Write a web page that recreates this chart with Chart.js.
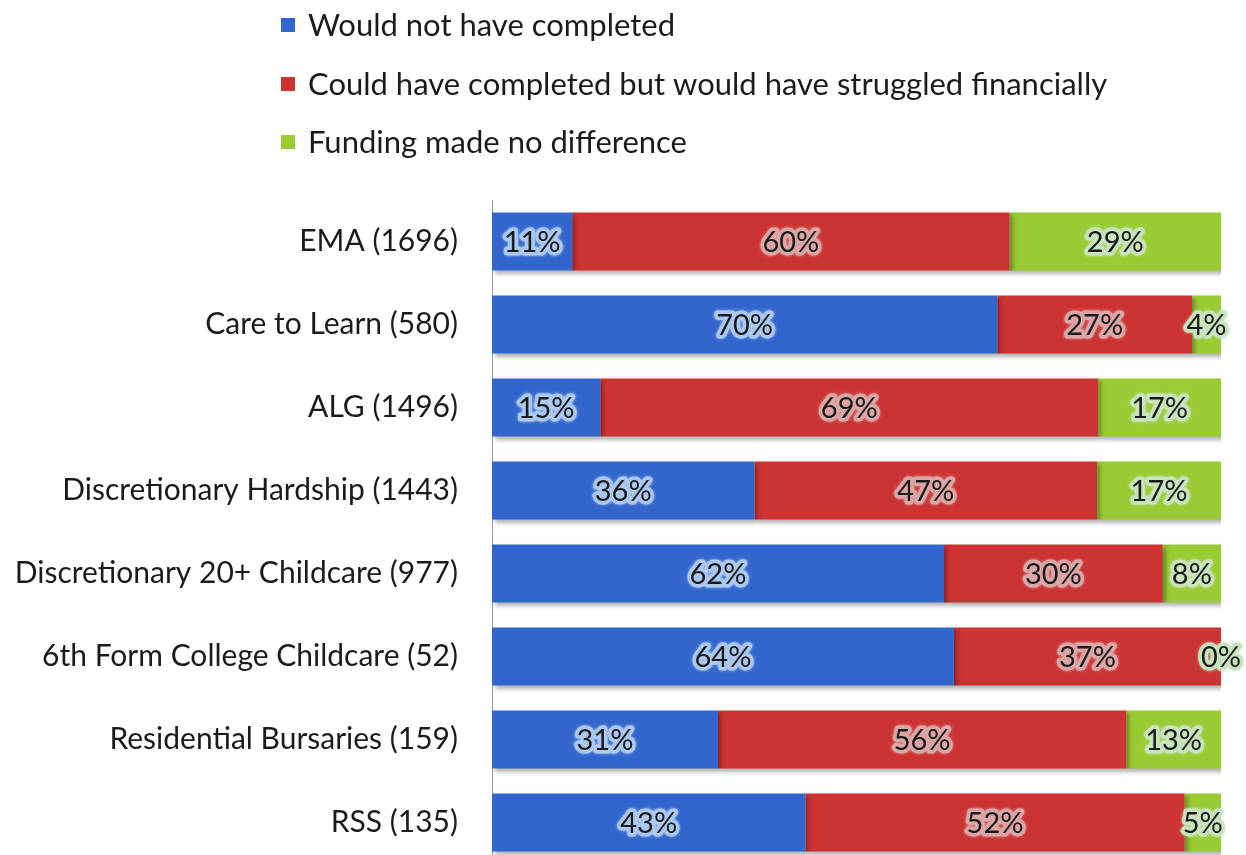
<!DOCTYPE html>
<html>
<head>
<meta charset="utf-8">
<script src="https://cdn.jsdelivr.net/npm/chart.js@4.4.1/dist/chart.umd.min.js"></script>
<style>
    html, body { margin: 0; padding: 0; overflow: hidden; background: #fff; }
</style>
</head>
<body>
<canvas id="chart" width="1246" height="864"></canvas>
<script>
const categories = [
    'EMA (1696)',
    'Care to Learn (580)',
    'ALG (1496)',
    'Discretionary Hardship (1443)',
    'Discretionary 20+ Childcare (977)',
    '6th Form College Childcare (52)',
    'Residential Bursaries (159)',
    'RSS (135)'
];
const seriesNames = [
    'Would not have completed',
    'Could have completed but would have struggled financially',
    'Funding made no difference'
];
const notCompleted = [11, 70, 15, 36, 62, 64, 31, 43];
const struggled = [60, 27, 69, 47, 30, 37, 56, 52];
const noDifference = [29, 4, 17, 17, 8, 0, 13, 5];

const colors = ['#3366cc', '#cc3333', '#99cc33'];
const haloColors = ['#aac8f0', '#dca6a6', '#c8e4bc'];
const FONT = 'Lato, "Open Sans", sans-serif';

const series = [notCompleted, struggled, noDifference];
const totals = categories.map((c, i) => series.reduce((s, arr) => s + arr[i], 0));

const datasets = series.map((values, k) => ({
    label: seriesNames[k],
    data: values.map((v, i) => v / totals[i] * 100),
    rawValues: values,
    backgroundColor: colors[k],
    borderWidth: 0,
    barPercentage: 0.7,
    categoryPercentage: 1
}));

// shadows under the bars + glowing value labels
const barLabels = {
    id: 'barLabels',
    beforeDatasetsDraw(chart) {
        const ctx = chart.ctx;
        ctx.save();
        ctx.shadowColor = 'rgba(0,0,0,0.3)';
        ctx.shadowBlur = 4;
        ctx.shadowOffsetX = 3;
        ctx.shadowOffsetY = 3;
    },
    afterDatasetsDraw(chart) {
        const ctx = chart.ctx;
        ctx.restore();
        ctx.save();
        ctx.font = '29px ' + FONT;
        ctx.textAlign = 'center';
        ctx.textBaseline = 'middle';
        ctx.lineJoin = 'round';
        chart.data.datasets.forEach((ds, k) => {
            chart.getDatasetMeta(k).data.forEach((bar, i) => {
                const txt = ds.rawValues[i] + '%';
                const x = (bar.x + bar.base) / 2;
                const y = bar.y + 1;
                ctx.shadowColor = haloColors[k];
                ctx.shadowBlur = 3;
                ctx.strokeStyle = haloColors[k];
                ctx.lineWidth = 7;
                ctx.strokeText(txt, x, y);
                ctx.shadowBlur = 0;
                ctx.fillStyle = '#1b1b1b';
                ctx.fillText(txt, x, y);
            });
        });
        ctx.restore();
    }
};

// legend stacked vertically at the top
const stackedLegend = {
    id: 'stackedLegend',
    afterDraw(chart) {
        const ctx = chart.ctx;
        const rows = [25, 84, 142];
        ctx.save();
        ctx.font = '31px ' + FONT;
        ctx.textBaseline = 'middle';
        ctx.textAlign = 'left';
        seriesNames.forEach((name, k) => {
            ctx.fillStyle = colors[k];
            ctx.fillRect(281, rows[k] - 7, 14, 14);
            ctx.fillStyle = '#1b1b1b';
            ctx.fillText(name, 308, rows[k] + 1);
        });
        ctx.restore();
    }
};

new Chart(document.getElementById('chart'), {
    type: 'bar',
    data: {
        labels: categories,
        datasets: datasets
    },
    options: {
        indexAxis: 'y',
        responsive: false,
        animation: false,
        layout: {
            padding: { top: 200, right: 25, left: 0, bottom: 0 }
        },
        scales: {
            x: {
                stacked: true,
                display: false,
                min: 0,
                max: 100
            },
            y: {
                stacked: true,
                offset: true,
                grid: { display: false },
                border: { display: true, color: '#a0a0a0', width: 1 },
                ticks: {
                    color: '#1b1b1b',
                    padding: 26,
                    font: { family: FONT, size: 30 }
                },
                afterFit: scale => {
                    scale.width = 492;
                    scale.paddingTop = 0;
                    scale.paddingBottom = 0;
                }
            }
        },
        plugins: {
            legend: { display: false },
            tooltip: { enabled: false }
        }
    },
    plugins: [barLabels, stackedLegend]
});
</script>
</body>
</html>
